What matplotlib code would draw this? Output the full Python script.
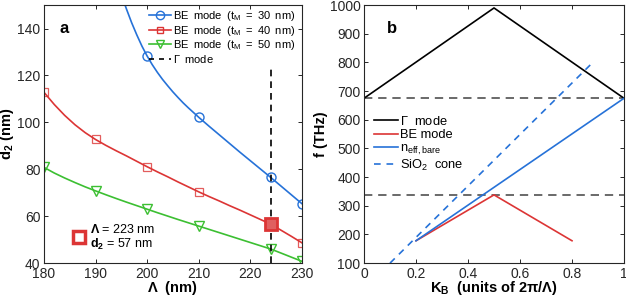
import matplotlib.pyplot as plt
from matplotlib.lines import Line2D

# ---- panel a: markers ----
lam_blue = [200, 210, 224, 230]
d2_blue = [128.3, 102.2, 76.5, 65.4]
lam_pts = [180, 190, 200, 210, 224, 230]
d2_red = [112.8, 92.7, 81.1, 70.4, 56.6, 48.7]
d2_green = [80.8, 70.8, 63.0, 55.8, 46.0, 40.8]

# ---- panel a: smooth curves ----
lam_curve_blue = [195, 196, 197, 198, 199, 200, 201, 202, 203, 204, 205, 206, 207,
                  208, 209, 210, 212, 214, 216, 218, 220, 222, 224, 226, 228, 230]
d2_curve_blue = [154.5, 148.3, 142.5, 137.3, 132.5, 128.3, 124.6, 121.3, 118.3,
                 115.6, 113.0, 110.6, 108.3, 106.2, 104.2, 102.2, 98.4, 94.7, 91.0,
                 87.3, 83.7, 80.1, 76.5, 72.8, 69.1, 65.4]
lam_curve = [180, 182, 184, 186, 188, 190, 192, 194, 196, 198, 200, 202, 204,
             206, 208, 210, 212, 214, 216, 218, 220, 222, 224, 226, 228, 230]
d2_curve_red = [112.8, 107.6, 103.0, 99.0, 95.6, 92.7, 90.2, 87.9, 85.7, 83.4,
                81.1, 78.9, 76.8, 74.6, 72.5, 70.4, 68.4, 66.5, 64.5, 62.6, 60.6,
                58.6, 56.6, 54.0, 51.4, 48.7]
d2_curve_green = [80.8, 78.4, 76.3, 74.35, 72.5, 70.8, 69.15, 67.55, 66.0, 64.5,
                  63.0, 61.5, 60.05, 58.6, 57.2, 55.8, 54.4, 53.0, 51.6, 50.2, 48.8,
                  47.4, 46.0, 44.27, 42.53, 40.8]

gamma_lam = 224
gamma_d2 = [40, 123]
sel_lam, sel_d2 = 224, 56.6

# ---- panel b ----
k_gamma = [0.0, 0.5, 1.0]
f_gamma = [675, 990, 675]
k_be = [0.2, 0.5, 0.8]
f_be = [178, 338, 178]
k_bare = [0.2, 1.0]
f_bare = [178, 675]
k_cone = [0.1, 0.88]
f_cone = [100, 800]
f_hlines = [675, 338]

blue = "#2672d8"
red = "#dc3535"
green = "#3cbf32"
axc = "#262626"

plt.rcParams["font.family"] = ["Liberation Sans", "DejaVu Sans"]
plt.rcParams["mathtext.fontset"] = "custom"
plt.rcParams["mathtext.rm"] = "Liberation Sans"
plt.rcParams["mathtext.bf"] = "Liberation Sans:bold"
plt.rcParams["mathtext.it"] = "Liberation Sans:italic"
plt.rcParams["axes.edgecolor"] = axc
plt.rcParams["xtick.color"] = axc
plt.rcParams["ytick.color"] = axc

fig = plt.figure(figsize=(6.26, 2.99), dpi=100)
ax1 = fig.add_axes([0.0703, 0.120, 0.4117, 0.863])
ax2 = fig.add_axes([0.5815, 0.120, 0.4153, 0.863])

for ax in (ax1, ax2):
    ax.tick_params(direction="in", top=True, right=True, labelsize=10,
                   length=3, width=0.7, pad=2.5)
    for s in ax.spines.values():
        s.set_linewidth(0.8)

# panel a
ax1.plot(lam_curve_blue, d2_curve_blue, color=blue, lw=1.2)
ax1.plot(lam_curve, d2_curve_red, color=red, lw=1.2)
ax1.plot(lam_curve, d2_curve_green, color=green, lw=1.2)
ax1.plot(lam_blue, d2_blue, "o", mfc="none", mec=blue, ms=6.5, mew=1.0)
ax1.plot(lam_pts, d2_red, "s", mfc="none", mec=red, ms=5.5, mew=0.9, alpha=0.8)
ax1.plot(lam_pts, d2_green, "v", mfc="none", mec=green, ms=6.5, mew=1.0)
ax1.plot([gamma_lam, gamma_lam], gamma_d2, color="k", lw=1.2, ls=(0, (4, 3)))
ax1.plot([sel_lam], [sel_d2], "s", mfc="#e06060", mec=red, ms=8.5, mew=2.0)
ax1.set_xlim(180, 230)
ax1.set_ylim(40, 150)
ax1.set_xticks([180, 190, 200, 210, 220, 230])
ax1.set_yticks([40, 60, 80, 100, 120, 140])
ax1.set_xlabel(r"$\mathbf{\Lambda}$  (nm)", fontsize=10.5, fontweight="bold", labelpad=-1)
ax1.set_ylabel(r"d$_\mathbf{2}$ (nm)", fontsize=10.5, fontweight="bold", labelpad=1)
ax1.text(0.062, 0.91, "a", transform=ax1.transAxes, fontsize=12, fontweight="bold",
         va="center")

h1 = [
    Line2D([], [], color=blue, marker="o", mfc="none", ms=6, lw=1.2),
    Line2D([], [], color=red, marker="s", mfc="none", ms=5, lw=1.2),
    Line2D([], [], color=green, marker="v", mfc="none", ms=6, lw=1.2),
    Line2D([], [], color="k", ls=(0, (3, 3)), lw=1.2),
]
sp = " \u2009"
l1 = [f"BE{sp}mode{sp}(t$_\\mathrm{{M}}${sp}={sp}{t}{sp}nm)" for t in (30, 40, 50)]
l1.append(f"$\\Gamma${sp}mode")
ax1.legend(h1, l1, loc="upper right", bbox_to_anchor=(1.0, 1.01), frameon=False,
           fontsize=8, handlelength=1.9, handletextpad=0.2, labelspacing=0.05,
           borderaxespad=0.2)

ax1.plot([0.135], [0.103], "s", transform=ax1.transAxes, mfc="white", mec=red,
         ms=9, mew=2.5, clip_on=False)
ax1.text(0.178, 0.13, r"$\mathbf{\Lambda}$ = 223 nm", transform=ax1.transAxes,
         fontsize=9, va="center")
ax1.text(0.178, 0.072, r"$\mathbf{d_2}$ = 57 nm", transform=ax1.transAxes,
         fontsize=9, va="center")

# panel b
for fh in f_hlines:
    ax2.axhline(fh, color="#505050", lw=1.2, ls=(0, (5, 3.5)))
ax2.plot(k_gamma, f_gamma, color="k", lw=1.2, label=r"$\Gamma$  mode")
ax2.plot(k_be, f_be, color=red, lw=1.2, label="BE mode")
ax2.plot(k_bare, f_bare, color=blue, lw=1.2, label=r"n$_\mathrm{eff,bare}$")
ax2.plot(k_cone, f_cone, color=blue, lw=1.2, ls=(0, (4, 3.5)), label=r"SiO$_2$  cone")
ax2.set_xlim(0, 1)
ax2.set_ylim(100, 1000)
ax2.set_xticks([0, 0.2, 0.4, 0.6, 0.8, 1])
ax2.set_xticklabels(["0", "0.2", "0.4", "0.6", "0.8", "1"])
ax2.set_yticks(range(100, 1001, 100))
ax2.set_xlabel(r"K$_\mathbf{B}$  (units of 2$\mathbf{\pi}$/$\mathbf{\Lambda}$)",
               fontsize=10.5, fontweight="bold", labelpad=-1)
ax2.set_ylabel("f (THz)", fontsize=10.5, fontweight="bold", labelpad=1)
ax2.text(0.09, 0.91, "b", transform=ax2.transAxes, fontsize=12, fontweight="bold",
         va="center")
ax2.legend(loc="upper left", bbox_to_anchor=(0.02, 0.595), frameon=False,
           fontsize=9.3, handlelength=1.8, handletextpad=0.2, labelspacing=0.1,
           borderaxespad=0.0)

fig.savefig("out.png", dpi=100)
